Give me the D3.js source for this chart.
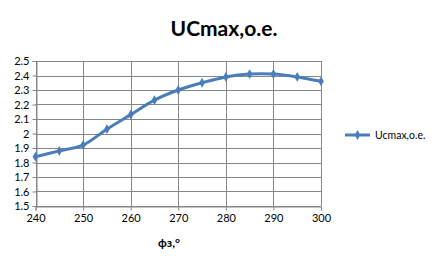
<!DOCTYPE html>
<html>
<head>
<meta charset="utf-8">
<script src="https://cdn.jsdelivr.net/npm/d3@7"></script>
<style>
  body { margin: 0; background: #fff; }
  svg { display: block; font-family: Lato, "Open Sans", sans-serif; }
</style>
</head>
<body>
<svg id="chart" width="448" height="271"></svg>
<script>
var angles = [240, 245, 250, 255, 260, 265, 270, 275, 280, 285, 290, 295, 300];
var ucmax = [1.84, 1.88, 1.92, 2.03, 2.13, 2.23, 2.30, 2.35, 2.39, 2.41, 2.41, 2.39, 2.36];
var xTicks = [240, 250, 260, 270, 280, 290, 300];
var yTicks = [1.5, 1.6, 1.7, 1.8, 1.9, 2, 2.1, 2.2, 2.3, 2.4, 2.5];
var seriesName = "Ucmax,o.e.";

var svg = d3.select("#chart");
var margin = {top: 61, left: 35.5, right: 127, bottom: 65};
var width = 448, height = 271;
var blue = "#4A7EBB", grid = "#868686";

var x = d3.scaleLinear().domain([240, 300]).range([margin.left, width - margin.right]);
var y = d3.scaleLinear().domain([1.5, 2.5]).range([height - margin.bottom, margin.top]);

// gridlines
svg.append("g").selectAll("line").data(yTicks).join("line")
    .attr("x1", x(240)).attr("x2", x(300))
    .attr("y1", function(d){ return Math.round(y(d)) + 0.5; })
    .attr("y2", function(d){ return Math.round(y(d)) + 0.5; })
    .attr("stroke", grid).attr("stroke-width", 1);
svg.append("g").selectAll("line").data(xTicks).join("line")
    .attr("x1", function(d){ return Math.round(x(d)) + 0.5; })
    .attr("x2", function(d){ return Math.round(x(d)) + 0.5; })
    .attr("y1", y(2.5)).attr("y2", y(1.5))
    .attr("stroke", grid).attr("stroke-width", 1);

// axes
var yAxis = svg.append("g")
    .attr("transform", "translate(" + (Math.round(x(240)) + 0.5) + ",0)")
    .call(d3.axisLeft(y).tickValues(yTicks).tickSize(4).tickPadding(3)
        .tickFormat(function(d){ return d3.format("")(+d.toFixed(1)); }));
var xAxis = svg.append("g")
    .attr("transform", "translate(0," + (Math.round(y(1.5)) + 0.5) + ")")
    .call(d3.axisBottom(x).tickValues(xTicks).tickSize(4).tickPadding(4));
[yAxis, xAxis].forEach(function(a){
    a.select(".domain").attr("stroke", grid);
    a.selectAll(".tick line").attr("stroke", grid);
    a.selectAll("text").attr("fill", "#000").attr("font-size", "11px")
        .attr("font-family", "Lato, sans-serif");
});

// series line
var pts = angles.map(function(a, i){ return [a, ucmax[i]]; });
var line = d3.line()
    .x(function(d){ return x(d[0]); })
    .y(function(d){ return y(d[1]); })
    .curve(d3.curveCatmullRom.alpha(0.5));
svg.append("path").datum(pts)
    .attr("d", line).attr("fill", "none")
    .attr("stroke", blue).attr("stroke-width", 3).attr("stroke-linejoin", "round");

var diamond = d3.symbol().type(d3.symbolDiamond).size(28);
svg.append("g").selectAll("path").data(pts).join("path")
    .attr("transform", function(d){ return "translate(" + x(d[0]) + "," + y(d[1]) + ")"; })
    .attr("d", diamond).attr("fill", blue);

// title
svg.append("text").attr("x", 224).attr("y", 36).attr("text-anchor", "middle")
    .attr("font-size", "21px").attr("font-weight", "bold").text("UCmax,o.e.");

// axis title
svg.append("text").attr("x", 169).attr("y", 247).attr("text-anchor", "middle")
    .attr("font-size", "12px").attr("font-weight", "bold").text("фз,°");

// legend
var lg = svg.append("g").attr("transform", "translate(345,135)");
lg.append("line").attr("x1", 0).attr("x2", 25).attr("stroke", blue).attr("stroke-width", 3);
lg.append("path").attr("transform", "translate(12.5,0)").attr("d", diamond).attr("fill", blue);
lg.append("text").attr("x", 30).attr("y", 4).attr("font-size", "10.5px").text(seriesName);
</script>
</body>
</html>
